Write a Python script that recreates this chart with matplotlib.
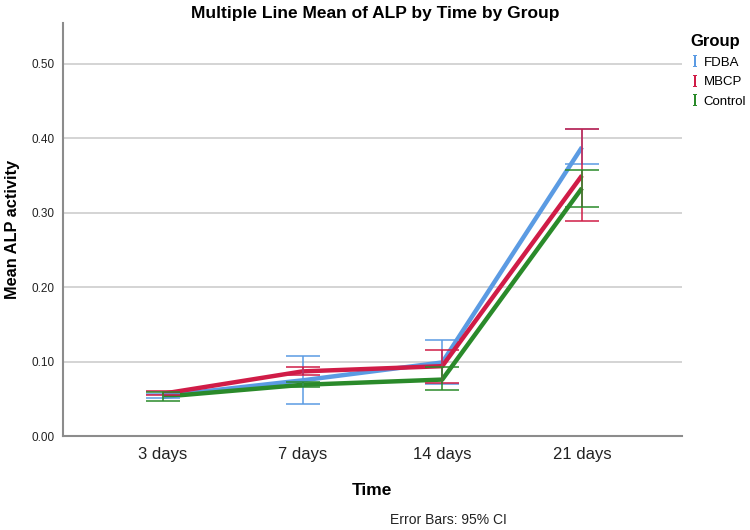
import numpy as np
import matplotlib
matplotlib.use("Agg")
import matplotlib.pyplot as plt
from matplotlib.lines import Line2D

plt.rcParams['font.family'] = ['Liberation Sans', 'DejaVu Sans']
plt.rcParams['mathtext.fontset'] = 'dejavuserif'

# category axis and groups
times = ["3 days", "7 days", "14 days", "21 days"]
groups = ["FDBA", "MBCP", "Control"]

# mean ALP activity per group
mean_fdba = [0.054, 0.075, 0.099, 0.388]
mean_mbcp = [0.057, 0.087, 0.094, 0.350]
mean_ctrl = [0.053, 0.069, 0.076, 0.333]

# 95% CI bounds
lo_fdba = [0.051, 0.043, 0.070, 0.365]
hi_fdba = [0.057, 0.108, 0.129, 0.412]
lo_mbcp = [0.055, 0.082, 0.072, 0.289]
hi_mbcp = [0.060, 0.093, 0.116, 0.412]
lo_ctrl = [0.047, 0.066, 0.062, 0.308]
hi_ctrl = [0.059, 0.073, 0.093, 0.357]

colors = ["#5b9be3", "#d01c47", "#2a8a2a"]

series = [
    (mean_fdba, lo_fdba, hi_fdba),
    (mean_mbcp, lo_mbcp, hi_mbcp),
    (mean_ctrl, lo_ctrl, hi_ctrl),
]

fig = plt.figure(figsize=(7.5, 5.3), dpi=100)
ax = fig.add_axes([0.084, 0.177, 0.825, 0.78])

x = np.arange(len(times))
for (m, lo, hi), c in zip(series, colors):
    m = np.array(m)
    err = [m - np.array(lo), np.array(hi) - m]
    ax.plot(x, m, color=c, lw=3.2, solid_capstyle='butt', zorder=3)
    ax.errorbar(x, m, yerr=err, fmt='none', ecolor=c, elinewidth=1.1,
                capsize=12.5, capthick=1.1, zorder=4)

ax.set_xlim(-0.714, 3.714)
ax.set_ylim(0, 0.555)
ax.set_xticks(x)
ax.set_xticklabels(times, fontsize=12, color="#222222")
ax.set_yticks(np.arange(0, 0.51, 0.1))
ax.set_yticklabels([f"{v:.2f}" for v in np.arange(0, 0.51, 0.1)],
                   fontsize=8.5, color="#222222")
ax.tick_params(axis='both', length=0)
ax.tick_params(axis='x', pad=8)
ax.tick_params(axis='y', pad=6)

ax.grid(axis='y', color="#d4d4d4", lw=1.4)
ax.set_axisbelow(True)
for s in ["top", "right"]:
    ax.spines[s].set_visible(False)
for s in ["left", "bottom"]:
    ax.spines[s].set_color("#8c8c8c")
    ax.spines[s].set_linewidth(1.5)

ax.set_xlabel("Time", fontsize=12.5, fontweight='bold', labelpad=15)
ax.set_ylabel("Mean ALP activity", fontsize=11.8, fontweight='bold', labelpad=8)
fig.suptitle("Multiple Line Mean of ALP by Time by Group", fontsize=12.5,
             fontweight='bold', x=0.50, y=0.988)

# legend glyphs look like small serif "I"
handles = [Line2D([], [], ls='none', marker=r'$\mathrm{I}$', color=c,
                  markersize=8, markeredgewidth=0) for c in colors]
leg = fig.legend(handles=handles, labels=groups, loc='upper left',
                 bbox_to_anchor=(0.905, 0.958), frameon=False, fontsize=9.5,
                 handlelength=0.6, handletextpad=0.4, labelspacing=0.55,
                 title="Group", title_fontproperties={'weight': 'bold', 'size': 12})
leg._legend_box.align = "left"

fig.text(0.598, 0.012, "Error Bars: 95% CI", fontsize=10, ha='center', color="#222222")

fig.savefig("out.png", dpi=100)
